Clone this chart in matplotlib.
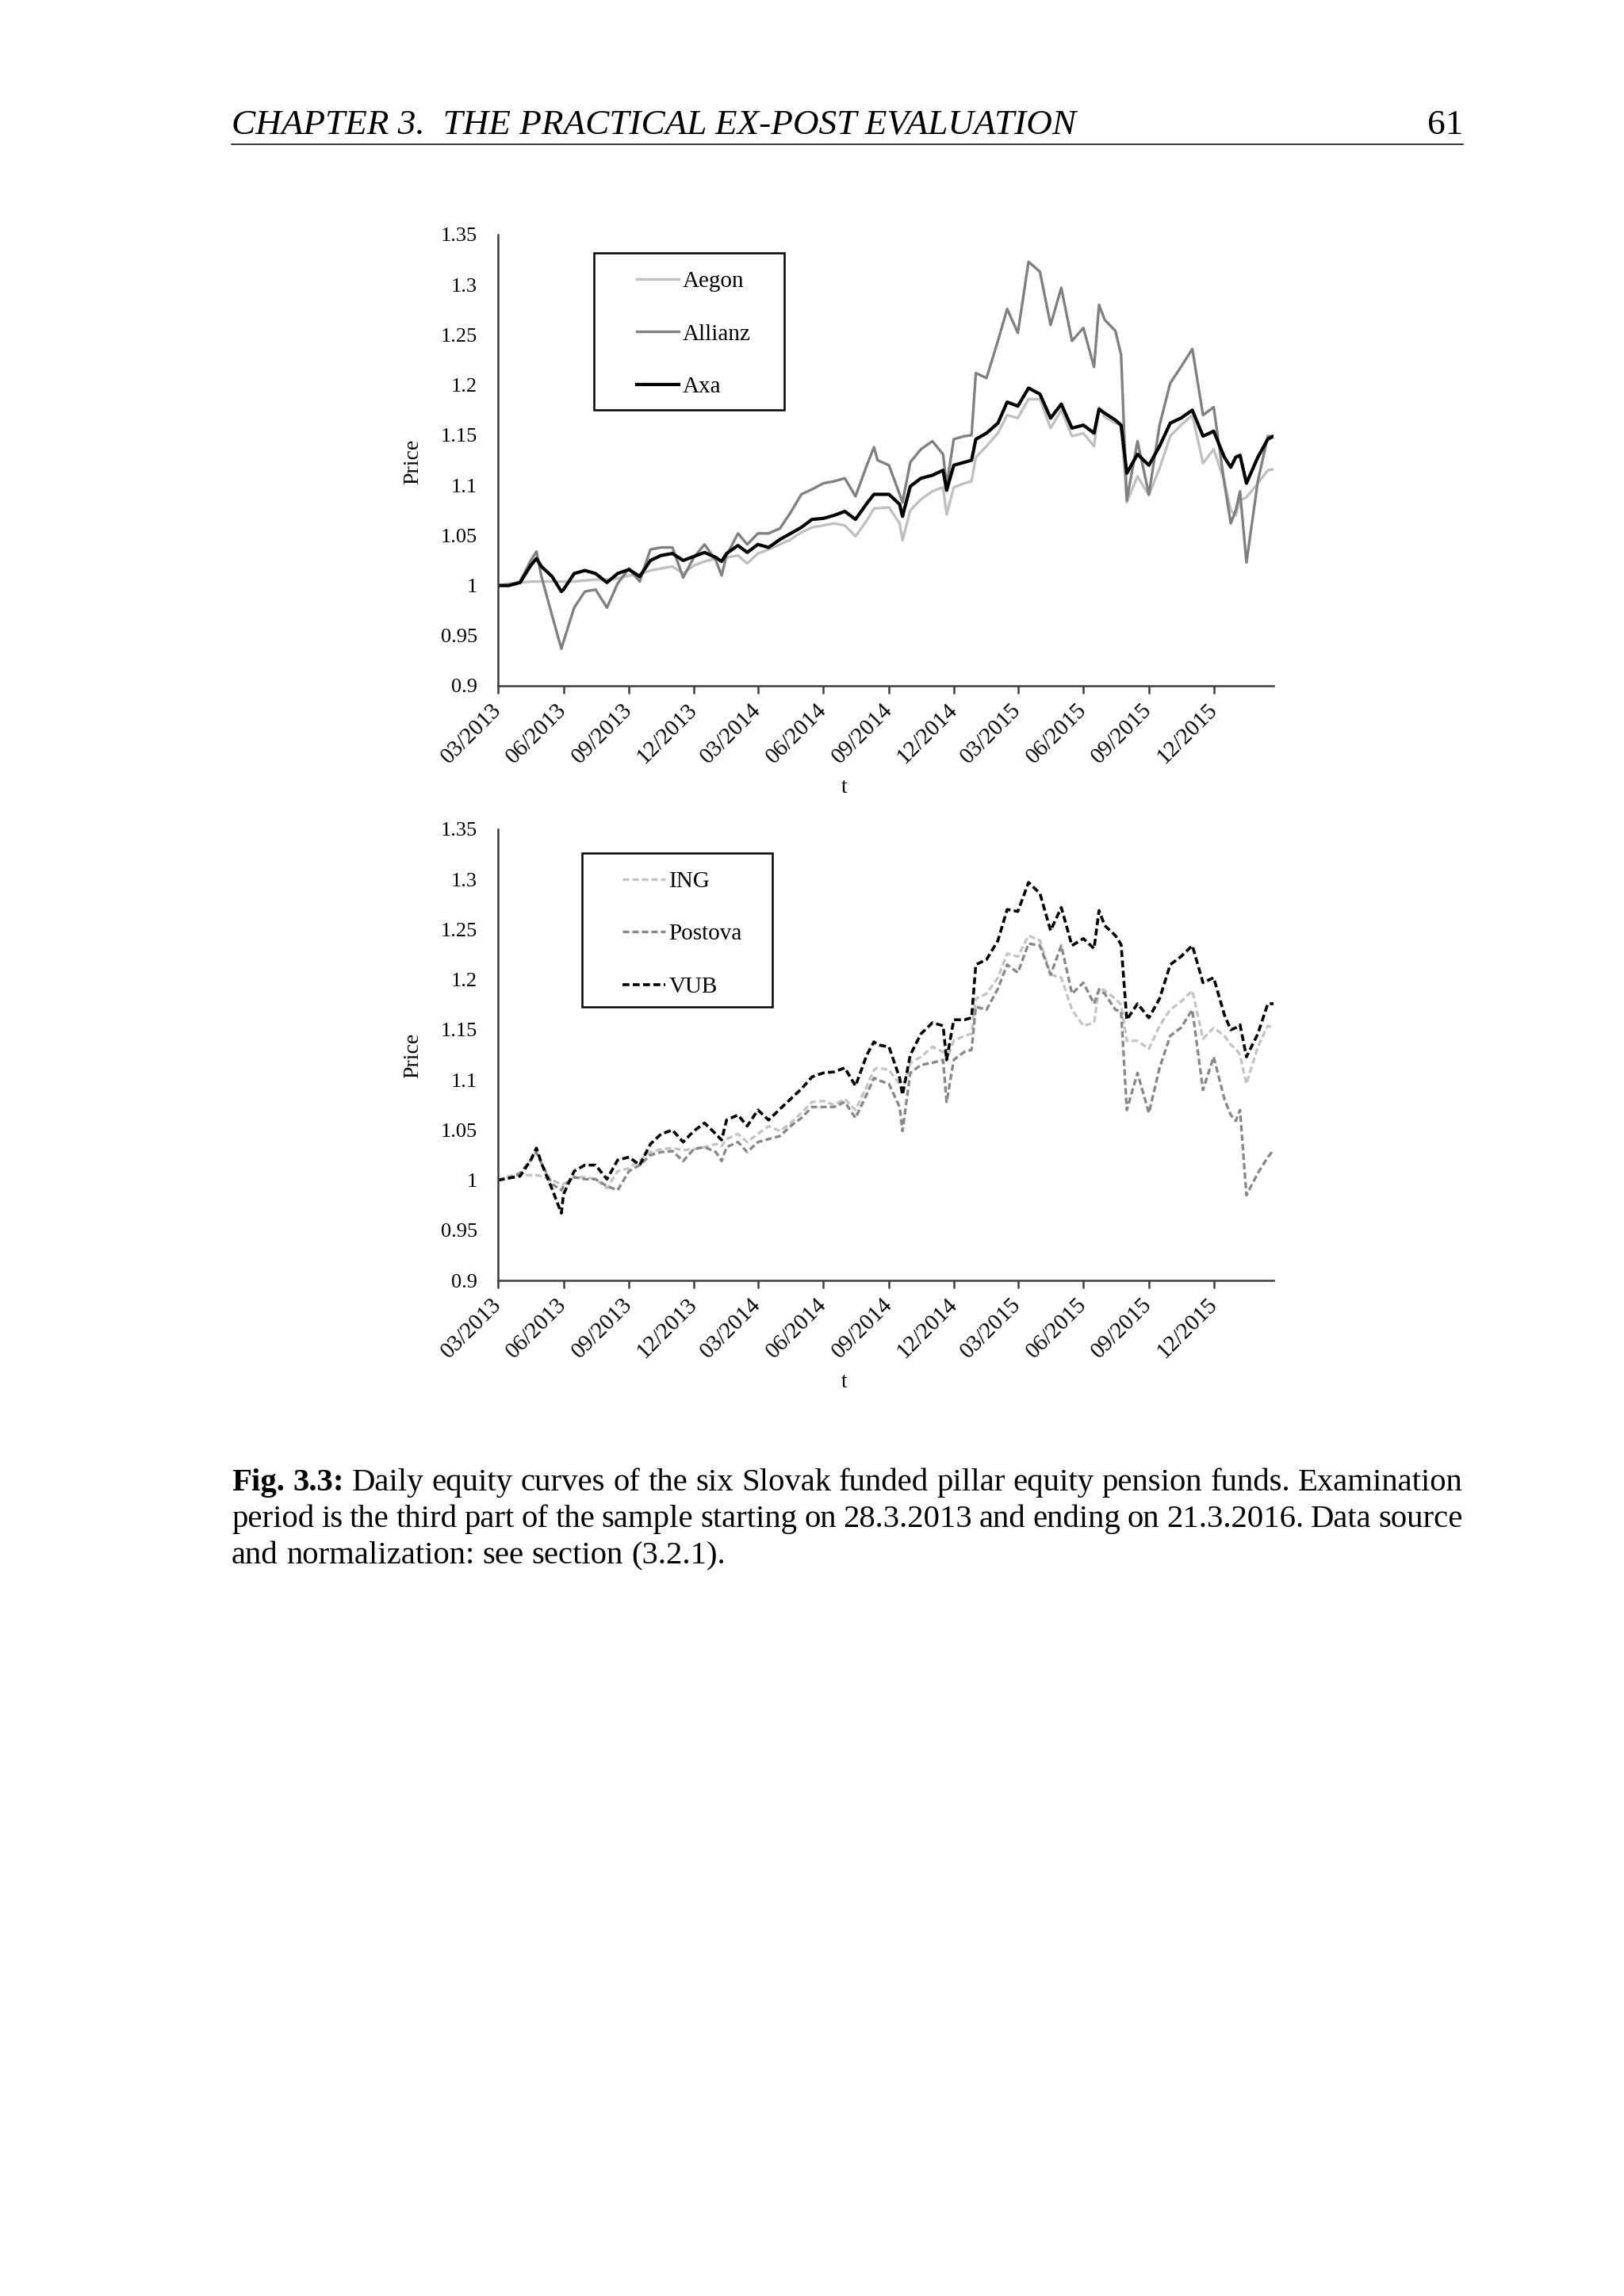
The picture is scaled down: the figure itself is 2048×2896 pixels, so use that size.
import matplotlib
matplotlib.use("Agg")
import matplotlib.pyplot as plt
from matplotlib.patches import Rectangle
import pandas as pd

### DATA ###
dates = [
    "2013-03-28", "2013-04-12", "2013-04-28", "2013-05-13", "2013-05-21", "2013-05-28", "2013-06-12", "2013-06-25", "2013-06-28", "2013-07-13",
    "2013-07-28", "2013-08-12", "2013-08-28", "2013-09-12", "2013-09-28", "2013-10-13", "2013-10-28", "2013-11-12", "2013-11-28", "2013-12-13",
    "2013-12-28", "2014-01-12", "2014-01-28", "2014-02-05", "2014-02-12", "2014-02-28", "2014-03-13", "2014-03-28", "2014-04-12", "2014-04-28",
    "2014-05-13", "2014-05-28", "2014-06-12", "2014-06-28", "2014-07-13", "2014-07-28", "2014-08-12", "2014-08-28", "2014-09-07", "2014-09-12",
    "2014-09-28", "2014-10-13", "2014-10-17", "2014-10-28", "2014-11-12", "2014-11-28", "2014-12-13", "2014-12-18", "2014-12-28", "2015-01-12",
    "2015-01-22", "2015-01-28", "2015-02-12", "2015-02-28", "2015-03-13", "2015-03-28", "2015-04-12", "2015-04-28", "2015-05-13", "2015-05-28",
    "2015-06-12", "2015-06-28", "2015-07-13", "2015-07-20", "2015-07-28", "2015-08-12", "2015-08-20", "2015-08-28", "2015-09-12", "2015-09-28",
    "2015-10-13", "2015-10-28", "2015-11-12", "2015-11-28", "2015-12-13", "2015-12-28", "2016-01-12", "2016-01-21", "2016-01-28", "2016-02-03",
    "2016-02-12", "2016-02-28", "2016-03-13", "2016-03-21",
]

aegon = [
    1.000, 1.002, 1.003, 1.004, 1.004, 1.004, 1.004, 1.004, 1.004, 1.004,
    1.005, 1.006, 1.006, 1.007, 1.010, 1.011, 1.015, 1.017, 1.019, 1.012,
    1.020, 1.024, 1.027, 1.025, 1.028, 1.030, 1.022, 1.032, 1.036, 1.041,
    1.046, 1.053, 1.058, 1.060, 1.062, 1.060, 1.049, 1.065, 1.077, 1.077,
    1.078, 1.062, 1.045, 1.075, 1.086, 1.094, 1.098, 1.071, 1.098, 1.102,
    1.104, 1.128, 1.139, 1.152, 1.170, 1.167, 1.186, 1.186, 1.157, 1.175,
    1.149, 1.152, 1.139, 1.178, 1.168, 1.162, 1.160, 1.083, 1.109, 1.090,
    1.117, 1.149, 1.160, 1.170, 1.122, 1.136, 1.104, 1.075, 1.070, 1.085,
    1.088, 1.102, 1.115, 1.116,
]
allianz = [
    1.000, 1.000, 1.004, 1.025, 1.034, 1.009, 0.970, 0.937, 0.944, 0.978,
    0.994, 0.996, 0.978, 1.002, 1.017, 1.004, 1.036, 1.038, 1.038, 1.008,
    1.028, 1.041, 1.025, 1.010, 1.030, 1.052, 1.041, 1.052, 1.052, 1.057,
    1.073, 1.091, 1.096, 1.102, 1.104, 1.107, 1.089, 1.120, 1.138, 1.125,
    1.120, 1.091, 1.083, 1.123, 1.136, 1.144, 1.131, 1.100, 1.146, 1.149,
    1.150, 1.212, 1.207, 1.244, 1.276, 1.252, 1.323, 1.313, 1.260, 1.297,
    1.244, 1.257, 1.218, 1.280, 1.265, 1.254, 1.230, 1.085, 1.144, 1.091,
    1.160, 1.202, 1.218, 1.236, 1.170, 1.178, 1.102, 1.062, 1.075, 1.094,
    1.023, 1.104, 1.149, 1.149,
]
axa = [
    1.000, 1.000, 1.003, 1.020, 1.027, 1.019, 1.009, 0.994, 0.996, 1.012,
    1.015, 1.012, 1.003, 1.012, 1.016, 1.009, 1.025, 1.030, 1.032, 1.025,
    1.029, 1.033, 1.028, 1.024, 1.032, 1.040, 1.033, 1.041, 1.038, 1.046,
    1.052, 1.058, 1.066, 1.067, 1.070, 1.074, 1.066, 1.082, 1.091, 1.091,
    1.091, 1.081, 1.069, 1.099, 1.107, 1.110, 1.115, 1.095, 1.120, 1.123,
    1.125, 1.146, 1.152, 1.162, 1.183, 1.179, 1.197, 1.191, 1.167, 1.181,
    1.157, 1.160, 1.152, 1.176, 1.172, 1.165, 1.160, 1.112, 1.131, 1.120,
    1.139, 1.162, 1.167, 1.175, 1.149, 1.154, 1.128, 1.118, 1.128, 1.130,
    1.102, 1.128, 1.146, 1.149,
]
ing = [
    1.000, 1.004, 1.005, 1.005, 1.005, 1.004, 1.000, 0.996, 0.996, 1.003,
    1.003, 1.001, 0.992, 1.009, 1.012, 1.020, 1.028, 1.031, 1.032, 1.030,
    1.031, 1.033, 1.036, 1.034, 1.041, 1.046, 1.038, 1.046, 1.054, 1.049,
    1.057, 1.067, 1.078, 1.079, 1.075, 1.081, 1.070, 1.094, 1.110, 1.112,
    1.110, 1.096, 1.090, 1.117, 1.123, 1.133, 1.128, 1.120, 1.139, 1.144,
    1.146, 1.181, 1.186, 1.202, 1.226, 1.223, 1.244, 1.239, 1.205, 1.202,
    1.170, 1.154, 1.157, 1.192, 1.189, 1.181, 1.175, 1.139, 1.139, 1.131,
    1.154, 1.170, 1.178, 1.189, 1.141, 1.152, 1.144, 1.135, 1.131, 1.125,
    1.096, 1.133, 1.154, 1.152,
]
postova = [
    1.000, 1.002, 1.007, 1.020, 1.028, 1.017, 0.996, 0.990, 0.994, 1.003,
    1.001, 1.001, 0.994, 0.990, 1.009, 1.015, 1.025, 1.028, 1.029, 1.019,
    1.031, 1.033, 1.028, 1.019, 1.033, 1.038, 1.028, 1.038, 1.041, 1.044,
    1.054, 1.062, 1.073, 1.073, 1.073, 1.078, 1.062, 1.086, 1.102, 1.100,
    1.096, 1.073, 1.049, 1.107, 1.115, 1.117, 1.120, 1.078, 1.120, 1.128,
    1.130, 1.173, 1.170, 1.191, 1.215, 1.207, 1.236, 1.234, 1.205, 1.234,
    1.186, 1.197, 1.176, 1.190, 1.186, 1.170, 1.168, 1.070, 1.107, 1.067,
    1.112, 1.144, 1.152, 1.170, 1.090, 1.123, 1.081, 1.065, 1.059, 1.070,
    0.985, 1.007, 1.023, 1.030,
]
vub = [
    1.000, 1.002, 1.004, 1.020, 1.032, 1.017, 0.991, 0.967, 0.986, 1.009,
    1.015, 1.015, 1.001, 1.020, 1.023, 1.015, 1.036, 1.046, 1.050, 1.038,
    1.049, 1.057, 1.046, 1.040, 1.060, 1.065, 1.054, 1.070, 1.060, 1.071,
    1.081, 1.091, 1.103, 1.107, 1.108, 1.112, 1.094, 1.125, 1.138, 1.135,
    1.133, 1.102, 1.085, 1.125, 1.146, 1.157, 1.154, 1.120, 1.160, 1.160,
    1.162, 1.215, 1.220, 1.239, 1.270, 1.268, 1.297, 1.286, 1.249, 1.272,
    1.234, 1.241, 1.231, 1.269, 1.254, 1.244, 1.235, 1.160, 1.176, 1.162,
    1.181, 1.215, 1.223, 1.234, 1.197, 1.202, 1.165, 1.150, 1.152, 1.155,
    1.123, 1.146, 1.176, 1.176,
]

tick_dates = ["2013-03-28", "2013-06-28", "2013-09-28", "2013-12-28", "2014-03-28", "2014-06-28",
              "2014-09-28", "2014-12-28", "2015-03-28", "2015-06-28", "2015-09-28", "2015-12-28"]
tick_labels = ["03/2013", "06/2013", "09/2013", "12/2013", "03/2014", "06/2014",
               "09/2014", "12/2014", "03/2015", "06/2015", "09/2015", "12/2015"]
y_ticks = [0.9, 0.95, 1.0, 1.05, 1.1, 1.15, 1.2, 1.25, 1.3, 1.35]
y_labels = ["0.9", "0.95", "1", "1.05", "1.1", "1.15", "1.2", "1.25", "1.3", "1.35"]

header = "CHAPTER 3.  THE PRACTICAL EX-POST EVALUATION"
page_no = "61"
caption = [
    [("Fig.", "bold"), ("3.3:", "bold")] + [(w, "normal") for w in
        "Daily equity curves of the six Slovak funded pillar equity pension funds. Examination".split()],
    [(w, "normal") for w in
        "period is the third part of the sample starting on 28.3.2013 and ending on 21.3.2016. Data source".split()],
    [(w, "normal") for w in "and normalization: see section (3.2.1).".split()],
]

W, H = 2048, 2896
SERIF = ["Liberation Serif", "DejaVu Serif"]
plt.rcParams["font.family"] = SERIF


def fx(px):
    return px / W


def fy(py):
    return 1 - py / H


def draw_panel(ax, series, names, colors, widths, dashed, box, handle_xy):
    t = pd.to_datetime(dates)
    lines = []
    for vals, name, c, lw in zip(series, names, colors, widths):
        ln, = ax.plot(t, vals, color=c, lw=lw, label=name, solid_joinstyle="round")
        if dashed:
            ln.set_dashes((2.4, 1.2))
        lines.append(ln)

    ax.set_xlim(pd.Timestamp("2013-03-28"), pd.Timestamp("2016-03-21"))
    ax.set_ylim(0.9, 1.35)
    ax.set_yticks(y_ticks)
    ax.set_yticklabels(y_labels)
    ax.set_xticks(pd.to_datetime(tick_dates))
    ax.set_xticklabels(tick_labels, rotation=45, ha="right", va="center", rotation_mode="anchor")
    ax.tick_params(axis="x", direction="out", length=3.6, width=0.9, pad=6, labelsize=10.5, color="#3c3c3c")
    ax.tick_params(axis="y", length=0, pad=9.4, labelsize=9.5)
    for s in ["top", "right"]:
        ax.spines[s].set_visible(False)
    for s in ["left", "bottom"]:
        ax.spines[s].set_color("#3c3c3c")
        ax.spines[s].set_linewidth(0.9)

    # legend box like the Excel one
    ax.add_patch(Rectangle(box[:2], box[2], box[3], transform=ax.transAxes,
                           fill=False, ec="black", lw=0.9, zorder=5))
    leg = ax.legend(handles=lines, loc="upper left", bbox_to_anchor=handle_xy,
                    frameon=False, fontsize=10.5, borderpad=0, borderaxespad=0,
                    handlelength=1.82, handletextpad=0.17, labelspacing=1.38)
    return leg


fig = plt.figure(figsize=(W / 200, H / 200), dpi=200)

ax1 = fig.add_axes([fx(628), fy(865), fx(1606) - fx(628), fy(296) - fy(865)])
draw_panel(ax1, [aegon, allianz, axa], ["Aegon", "Allianz", "Axa"],
           ["#c0c0c0", "#808080", "#000000"], [1.2, 1.2, 1.5], False,
           (0.1237, 0.6116, 0.2454, 0.348), (0.179, 0.920))

ax2 = fig.add_axes([fx(628), fy(1615), fx(1606) - fx(628), fy(1046) - fy(1615)])
draw_panel(ax2, [ing, postova, vub], ["ING", "Postova", "VUB"],
           ["#c4c4c4", "#888888", "#000000"], [1.2, 1.2, 1.3], True,
           (0.108, 0.606, 0.246, 0.341), (0.161, 0.908))

# axis titles
fig.text(fx(521), fy(582), "Price", rotation=90, ha="center", va="center", fontsize=10)
fig.text(fx(521), fy(1331), "Price", rotation=90, ha="center", va="center", fontsize=10)
fig.text(fx(1065), fy(994), "t", ha="center", va="center", fontsize=10)
fig.text(fx(1065), fy(1743), "t", ha="center", va="center", fontsize=10)

# page header
fig.text(fx(292), fy(169), header, style="italic", fontsize=16.3, ha="left", va="baseline")
fig.text(fx(1845), fy(169), page_no, fontsize=16.3, ha="right", va="baseline")
fig.add_artist(plt.Line2D([fx(292), fx(1845)], [fy(182), fy(182)], color="black", lw=0.55))

# caption, justified like the LaTeX page
renderer = fig.canvas.get_renderer()
baselines = [1880, 1926, 1972]
cap_size = 14.7
for i, (words, base) in enumerate(zip(caption, baselines)):
    texts = [fig.text(0, fy(base), w, fontsize=cap_size, fontweight=wt, ha="left", va="baseline")
             for w, wt in words]
    widths = [t.get_window_extent(renderer).width for t in texts]
    if i < len(caption) - 1:
        gap = (1845 - 292 - sum(widths)) / (len(texts) - 1)
    else:
        gap = cap_size * 200 / 72 * 0.25
    x = 292
    for t, w in zip(texts, widths):
        t.set_x(fx(x))
        x += w + gap

fig.savefig("out.png", dpi=200)
